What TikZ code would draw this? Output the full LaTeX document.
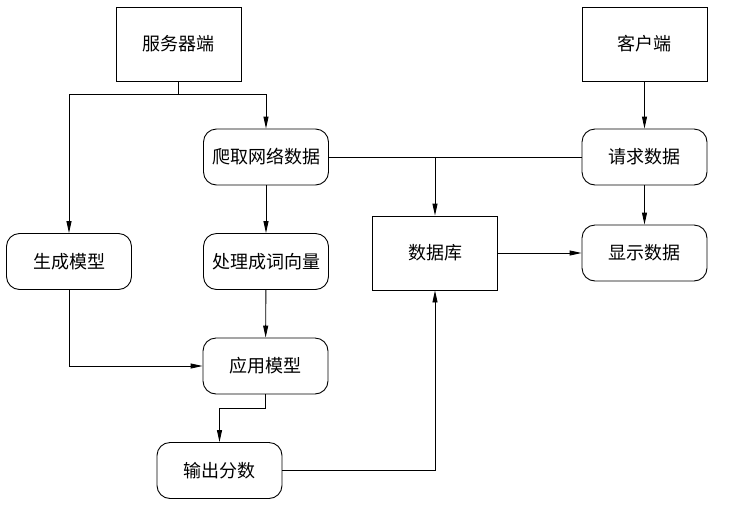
\documentclass[tikz,border=0pt]{standalone}
\usepackage{fontspec}
\setmainfont{Noto Sans CJK SC}
\usetikzlibrary{arrows.meta, positioning}

\begin{document}
\begin{tikzpicture}[x=1pt,y=-1pt,
    font=\fontsize{18}{21}\selectfont,
    block/.style={draw,line width=0.9pt,minimum width=125pt,minimum height=74pt,inner sep=0pt},
    roundbox/.style={draw,line width=0.9pt,rounded corners=13pt,minimum width=125pt,minimum height=56pt,inner sep=0pt},
    flow/.style={line width=0.9pt,-{Triangle[length=12pt,width=5pt]}},
    plain/.style={line width=0.9pt}]
  %% 1 unit = 1 px of the 739x507 picture, y pointing down
  \useasboundingbox (0,0) rectangle (739,507);

  % Server side
  \node[block] (server) at (178.5,44) {服务器端};
  \node[roundbox] (crawl) at (266,157) {爬取网络数据};
  \node[roundbox] (genmodel) at (69,261.5) {生成模型};
  \node[roundbox] (vector) at (266,261.5) {处理成词向量};
  \node[roundbox] (apply) at (265.5,366) {应用模型};
  \node[roundbox] (score) at (219.5,470.5) {输出分数};

  % Database and client side
  \node[block] (database) at (435,253) {数据库};
  \node[block] (client) at (644.5,44) {客户端};
  \node[roundbox] (request) at (644.5,157) {请求数据};
  \node[roundbox] (display) at (644.5,253) {显示数据};

  % Branch points
  \coordinate (split) at (178.5,94);
  \coordinate (tap) at (435,157);
  \coordinate (bend) at (219.5,408);

  % Connectors
  \draw[plain] (server) -- (split);
  \draw[flow] (split) -| (genmodel);
  \draw[flow] (split) -| (crawl);
  \draw[plain] (crawl) -- (request);
  \draw[flow] (tap) -- (database);
  \draw[flow] (crawl) -- (vector);
  \draw[flow] (vector) -- (apply);
  \draw[flow] (genmodel) |- (apply);
  \draw[flow] (apply.south) |- (bend) -- (score);
  \draw[flow] (score) -| (database);
  \draw[flow] (client) -- (request);
  \draw[flow] (request) -- (display);
  \draw[flow] (database) -- (display);
\end{tikzpicture}
\end{document}
